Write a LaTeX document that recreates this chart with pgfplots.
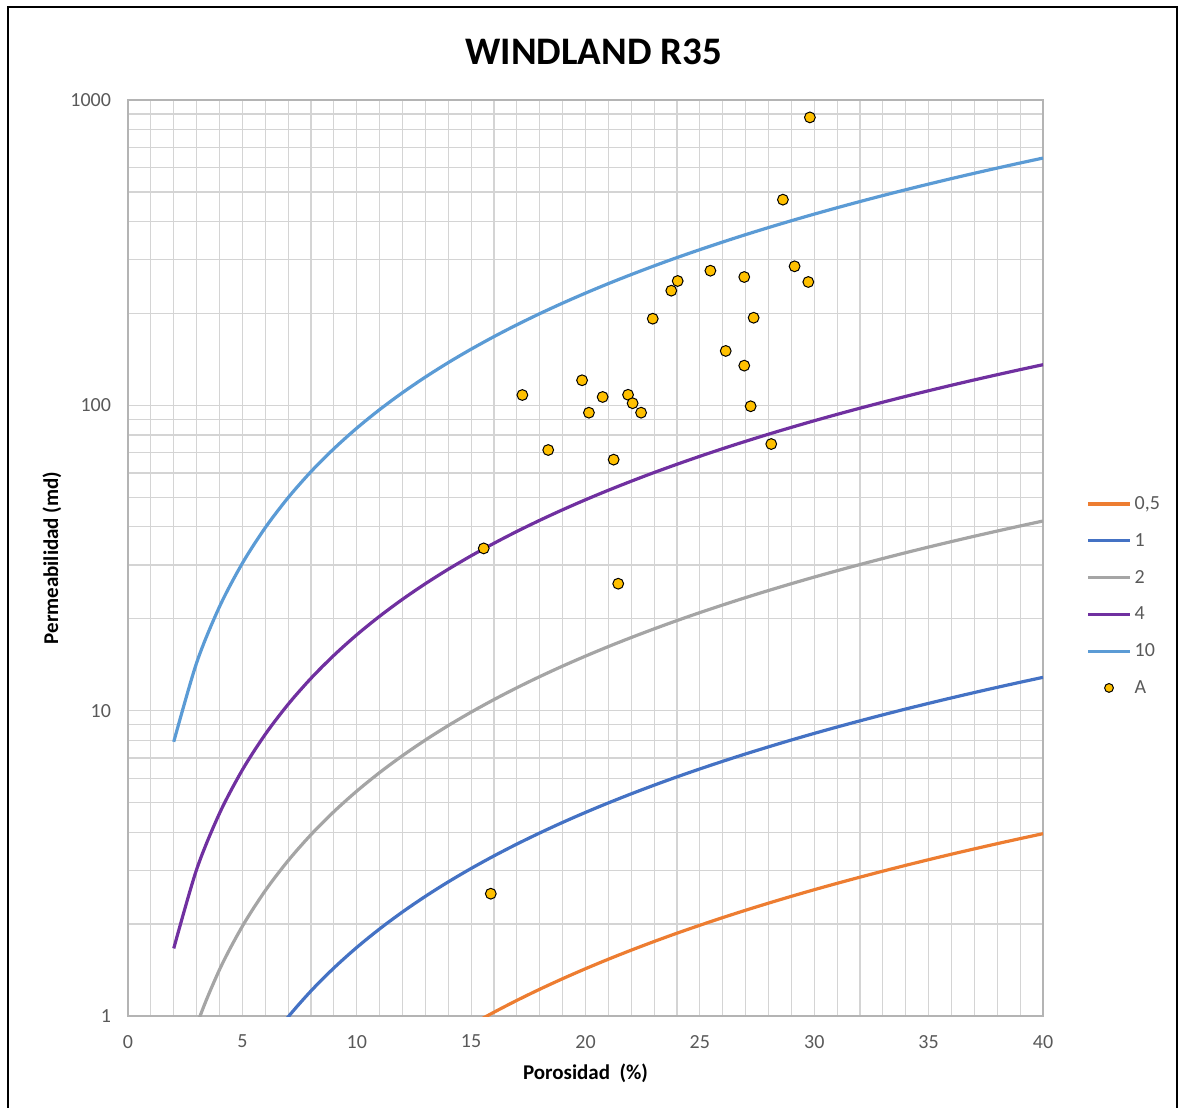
\documentclass[border=0pt]{standalone}
\usepackage{fontspec}
\setmainfont{Carlito}
\usepackage{pgfplots}
\pgfplotsset{compat=1.18}

\definecolor{rOrange}{HTML}{ED7D31}
\definecolor{rBlue}{HTML}{4472C4}
\definecolor{rGray}{HTML}{A5A5A5}
\definecolor{rPurple}{HTML}{7030A0}
\definecolor{rSky}{HTML}{5B9BD5}
\definecolor{ptFill}{HTML}{FFC000}
\definecolor{txtGray}{HTML}{595959}
\definecolor{gridGray}{HTML}{D4D4D4}

\pgfplotsset{
  wline/.style={line width=1.6pt, no marks, smooth,
    legend image code/.code={\draw[##1, line width=1.6pt] (0pt,0pt) -- (21pt,0pt);}},
}

\begin{document}
\begin{tikzpicture}
\path[use as bounding box] (-64pt,-45.5pt) rectangle (526.5pt,508pt);
\begin{axis}[
  scale only axis,
  width=457.5pt, height=458pt,
  xmin=0, xmax=40,
  ymode=log, ymin=1, ymax=1000,
  xtick={0,5,10,15,20,25,30,35,40},
  xticklabels={0,5,10,15,20,25,30,35,40},
  minor x tick num=4,
  ytick={1,10,100,1000},
  yticklabels={1,10,100,1000},
  minor ytick={2,3,4,5,6,7,8,9,20,30,40,50,60,70,80,90,200,300,400,500,600,700,800,900},
  xmajorgrids, xminorgrids, ymajorgrids, yminorgrids,
  major grid style={draw=gridGray, line width=0.6pt},
  minor grid style={draw=gridGray, line width=0.6pt},
  major tick length=0pt, minor tick length=0pt,
  axis line style={draw=gridGray!85!black, line width=0.7pt},
  tick label style={font=\fontsize{10}{12}\selectfont, text=txtGray},
  xticklabel shift=6pt,
  yticklabel shift=5pt,
  /pgf/number format/assume math mode=true,
  title={WINDLAND R35},
  title style={at={(0.509,1.039)}, anchor=center, font=\bfseries\fontsize{19.5}{23}\selectfont},
  xlabel={Porosidad\ \ (\%)},
  ylabel={Permeabilidad (md)},
  xlabel style={at={(0.5,-0.0622)}, anchor=center, font=\bfseries\fontsize{10.5}{12}\selectfont},
  ylabel style={at={(-0.0831,0.5)}, anchor=center, font=\bfseries\fontsize{10.5}{12}\selectfont},
  legend style={at={(1.047,0.572)}, anchor=north west, draw=none, fill=none,
    font=\fontsize{10}{12}\selectfont, text=txtGray,
    row sep=6.9pt, column sep=0pt, inner sep=0pt,
    nodes={inner sep=1.5pt, text height=7pt, text depth=1.5pt}},
  legend cell align=left,
  clip=true,
]
% R35 = 0.5 micron
\addplot[wline, rOrange] coordinates {
(2,0.04847)(3,0.08794)(4,0.1342)(5,0.1863)(6,0.2435)(7,0.3055)(8,0.3717)(9,0.4419)
(10,0.5159)(11,0.5934)(12,0.6743)(13,0.7585)(14,0.8458)(15,0.9360)(16,1.0291)(17,1.1250)
(18,1.2236)(19,1.3247)(20,1.4284)(21,1.5346)(22,1.6431)(23,1.7541)(24,1.8674)(25,1.9827)
(26,2.1004)(27,2.2201)(28,2.3419)(29,2.4659)(30,2.5919)(31,2.7197)(32,2.8495)(33,2.9814)
(34,3.1151)(35,3.2506)(36,3.3880)(37,3.5271)(38,3.6682)(39,3.8109)(40,3.9555)};
\addlegendentry{0,5}
% R35 = 1 micron
\addplot[wline, rBlue] coordinates {
(2,0.1576)(3,0.2859)(4,0.4362)(5,0.6056)(6,0.7916)(7,0.9929)(8,1.2081)(9,1.4363)
(10,1.6770)(11,1.9289)(12,2.1918)(13,2.4654)(14,2.7494)(15,3.0424)(16,3.3451)(17,3.6569)
(18,3.9772)(19,4.3061)(20,4.6430)(21,4.9883)(22,5.3411)(23,5.7018)(24,6.0700)(25,6.4450)
(26,6.8273)(27,7.2165)(28,7.6125)(29,8.0154)(30,8.4250)(31,8.8404)(32,9.2626)(33,9.6910)
(34,10.1258)(35,10.5661)(36,11.0128)(37,11.4651)(38,11.9238)(39,12.3875)(40,12.8575)};
\addlegendentry{1}
% R35 = 2 micron
\addplot[wline, rGray] coordinates {
(2,0.5121)(3,0.9292)(4,1.418)(5,1.968)(6,2.573)(7,3.227)(8,3.927)(9,4.669)
(10,5.451)(11,6.270)(12,7.124)(13,8.014)(14,8.937)(15,9.889)(16,10.873)(17,11.887)
(18,12.928)(19,13.997)(20,15.092)(21,16.215)(22,17.361)(23,18.534)(24,19.731)(25,20.950)
(26,22.192)(27,23.457)(28,24.745)(29,26.054)(30,27.386)(31,28.736)(32,30.108)(33,31.501)
(34,32.914)(35,34.345)(36,35.798)(37,37.268)(38,38.758)(39,40.266)(40,41.793)};
\addlegendentry{2}
% R35 = 4 micron
\addplot[wline, rPurple] coordinates {
(2,1.665)(3,3.020)(4,4.609)(5,6.398)(6,8.364)(7,10.491)(8,12.765)(9,15.176)
(10,17.719)(11,20.38)(12,23.16)(13,26.05)(14,29.05)(15,32.15)(16,35.34)(17,38.64)
(18,42.02)(19,45.50)(20,49.06)(21,52.71)(22,56.43)(23,60.25)(24,64.13)(25,68.10)
(26,72.14)(27,76.25)(28,80.43)(29,84.69)(30,89.02)(31,93.41)(32,97.87)(33,102.39)
(34,106.99)(35,111.64)(36,116.36)(37,121.14)(38,125.98)(39,130.89)(40,135.85)};
\addlegendentry{4}
% R35 = 10 micron
\addplot[wline, rSky] coordinates {
(2,7.909)(3,14.35)(4,21.90)(5,30.40)(6,39.74)(7,49.84)(8,60.65)(9,72.10)
(10,84.18)(11,96.83)(12,110.02)(13,123.76)(14,138.01)(15,152.72)(16,167.92)(17,183.57)
(18,199.65)(19,216.16)(20,233.07)(21,250.41)(22,268.11)(23,286.22)(24,304.70)(25,323.52)
(26,342.72)(27,362.25)(28,382.13)(29,402.35)(30,422.92)(31,443.77)(32,464.96)(33,486.47)
(34,508.29)(35,530.39)(36,552.82)(37,575.52)(38,598.54)(39,621.82)(40,645.41)};
\addlegendentry{10}
% core samples
\addplot[only marks, mark=*, mark size=2.7pt,
  mark options={fill=ptFill, draw=black, line width=0.5pt},
  legend image code/.code={\draw[mark=*, mark size=2.2pt, mark options={fill=ptFill, draw=black, line width=0.5pt}] plot coordinates {(10.5pt,0pt)};}]
coordinates {
(29.81,877)(28.63,471.6)(29.14,285.3)(29.74,253.5)(25.46,276.0)(24.03,255.4)
(23.75,237.4)(26.94,263.2)(22.94,192.2)(27.35,193.6)(26.13,150.7)(26.94,134.9)
(19.85,120.8)(17.24,108.1)(20.75,106.5)(21.86,108.3)(22.06,101.6)(20.15,94.6)
(22.43,94.6)(27.22,99.3)(18.37,71.4)(21.23,66.4)(28.12,74.7)(15.55,34.0)
(21.43,26.05)(15.86,2.515)};
\addlegendentry{A}
\end{axis}
% outer chart frame
\draw[line width=1.2pt] (-60pt,-50pt) -- (-60pt,504.5pt) -- (524.5pt,504.5pt) -- (524.5pt,-50pt);
\end{tikzpicture}
\end{document}
